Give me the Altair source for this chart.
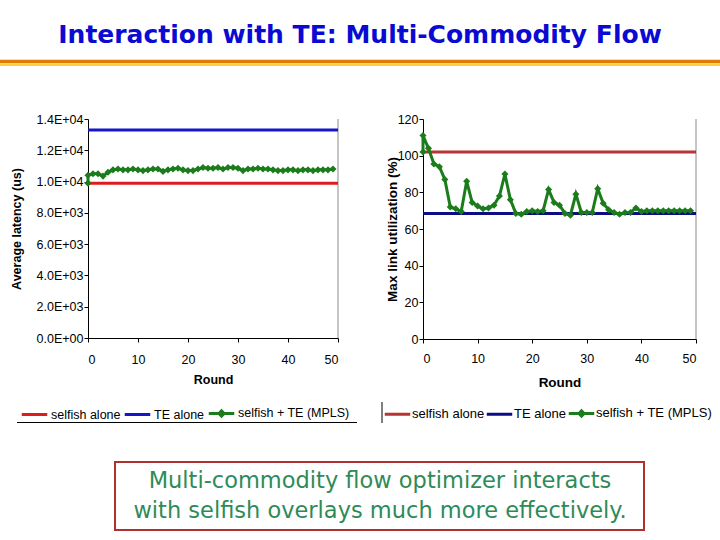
import altair as alt
import pandas as pd

FONT = "Liberation Sans"

TITLE = "Interaction with TE: Multi-Commodity Flow"
NOTE = "Multi-commodity flow optimizer interacts\nwith selfish overlays much more effectively."

SERIES = ["selfish alone", "TE alone", "selfish + TE (MPLS)"]

# Round index of each point of the combined run; round 0 appears twice
# (state before and after the first TE pass).
ROUNDS = [0, 0, 1, 2, 3, 4, 5, 6, 7, 8, 9, 10, 11, 12, 13, 14, 15, 16, 17, 18, 19,
          20, 21, 22, 23, 24, 25, 26, 27, 28, 29, 30, 31, 32, 33, 34, 35, 36, 37,
          38, 39, 40, 41, 42, 43, 44, 45, 46, 47, 48, 49]

# Average latency (us)
LATENCY_SELFISH = 9900
LATENCY_TE = 13300
LATENCY_MPLS = [9900, 10400, 10500, 10500, 10350, 10600, 10750, 10800, 10750, 10750,
                10800, 10750, 10700, 10750, 10800, 10800, 10650, 10750, 10800, 10850,
                10750, 10700, 10700, 10800, 10900, 10850, 10850, 10900, 10800, 10900,
                10900, 10850, 10700, 10800, 10800, 10850, 10800, 10800, 10750, 10700,
                10700, 10750, 10750, 10700, 10750, 10750, 10700, 10750, 10750, 10750,
                10800]

# Max link utilization (%)
UTIL_SELFISH = 102
UTIL_TE = 68.5
UTIL_MPLS = [102, 111, 104, 95.5, 94, 87, 72, 71, 69.5, 86, 74.5, 72.5, 71, 71.5, 73,
             78, 90, 76, 68.5, 68, 69.5, 70, 69.5, 70, 81.5, 74.5, 73, 68.5, 67.5, 79,
             69, 69, 69, 82, 74, 70.5, 69, 68, 69, 69, 71.5, 69.5, 70, 70, 70, 70, 70,
             70, 70, 70, 70]

ROUND_TICKS = [0, 10, 20, 30, 40, 50]
LATENCY_TICKS = [0, 2000, 4000, 6000, 8000, 10000, 12000, 14000]
UTIL_TICKS = [0, 20, 40, 60, 80, 100, 120]

LEFT_COLORS = ["#de1c1c", "#1616c6", "#1a7c1a"]
RIGHT_COLORS = ["#b83333", "#0c0c84", "#1a7c1a"]

# legend glyphs: plain strokes for the constant levels, stroke + diamond for the run
KEY_SHAPES = ["stroke", "stroke", "M-1,0L1,0M0,-0.2L0.2,0L0,0.2L-0.2,0Z"]

SCI_LABELS = ("datum.value >= 10000 ? format(datum.value / 10000, '.1f') + 'E+04' : "
              "datum.value > 0 ? format(datum.value / 1000, '.1f') + 'E+03' : '0.0E+00'")


def level_frame(selfish, te):
    return pd.DataFrame({"series": SERIES[:2], "round": [0, 0], "round_end": [50, 50],
                         "value": [selfish, te]})


def run_frame(values):
    return pd.DataFrame({"series": SERIES[2], "step": list(range(len(values))),
                         "round": ROUNDS, "value": values})


def panel(levels, run, *, x_range, y_domain, y_range, y_ticks, y_title, colors,
          y_axis_at, x_axis_at, legend_x, legend_y, label_size, title_size, key_size,
          legend_gap, label_offset, y_title_pad, x_label_pad, x_title_pad, **y_axis_extra):
    axis_style = dict(grid=False, domainColor="black", domainWidth=1, tickColor="black",
                      tickWidth=1, tickSize=4, labelColor="black", labelFont=FONT,
                      labelFontSize=label_size, titleFont=FONT, titleFontWeight="bold",
                      titleFontSize=title_size, titleColor="black")
    legend = alt.Legend(
        orient="none", legendX=legend_x, legendY=legend_y, direction="horizontal",
        title=None, padding=0, symbolSize=650, symbolStrokeWidth=3, labelFont=FONT,
        labelFontSize=key_size, labelColor="black", labelOffset=label_offset,
        columnPadding=legend_gap)
    color = alt.Color("series:N", scale=alt.Scale(domain=SERIES, range=colors),
                      legend=legend)
    shape = alt.Shape("series:N", scale=alt.Scale(domain=SERIES, range=KEY_SHAPES),
                      legend=legend)
    x = alt.X("round:Q",
              scale=alt.Scale(domain=[0, 50], range=x_range, nice=False, zero=False),
              axis=alt.Axis(orient="bottom", offset=-(540 - x_axis_at), values=ROUND_TICKS,
                            title="Round", labelPadding=x_label_pad,
                            titlePadding=x_title_pad, **axis_style))
    y = alt.Y("value:Q",
              scale=alt.Scale(domain=y_domain, range=y_range, nice=False, zero=True),
              axis=alt.Axis(orient="left", offset=-y_axis_at, values=y_ticks, title=y_title,
                            labelPadding=1, titlePadding=y_title_pad, **axis_style,
                            **y_axis_extra))

    # legend-only layer: carries the shape scale, draws nothing
    key = alt.Chart(run).transform_filter("false").mark_point(filled=True, opacity=1).encode(
        x=x, y=y, color=color, shape=shape)
    levels_layer = alt.Chart(levels).mark_rule(strokeWidth=3).encode(
        x=x, x2="round_end:Q", y=y, color=color)
    run_line = alt.Chart(run).mark_line(strokeWidth=3).encode(
        x=x, y=y, order="step:Q", color=color)
    run_dots = alt.Chart(run).mark_point(shape="diamond", filled=True, size=50,
                                         opacity=1).encode(x=x, y=y, color=color)
    edge = alt.Chart().mark_rule(color="#8c8c8c", strokeWidth=1).encode(
        x=alt.datum(50), y=alt.datum(y_domain[0]), y2=alt.datum(y_domain[1]))
    return alt.layer(key, edge, levels_layer, run_line, run_dots)


latency = panel(
    level_frame(LATENCY_SELFISH, LATENCY_TE), run_frame(LATENCY_MPLS),
    x_range=[88, 338], y_domain=[0, 14000], y_range=[338, 119], y_ticks=LATENCY_TICKS,
    y_title="Average latency (us)", colors=LEFT_COLORS, y_axis_at=88, x_axis_at=338,
    legend_x=20, legend_y=398.5, label_size=12.5, title_size=12.5, key_size=12.5,
    legend_gap=-3, label_offset=2, y_title_pad=13, x_label_pad=11, x_title_pad=8,
    labelExpr=SCI_LABELS)

utilization = panel(
    level_frame(UTIL_SELFISH, UTIL_TE), run_frame(UTIL_MPLS),
    x_range=[423, 696], y_domain=[0, 120], y_range=[339, 119], y_ticks=UTIL_TICKS,
    y_title="Max link utilization (%)", colors=RIGHT_COLORS, y_axis_at=423, x_axis_at=339,
    legend_x=383, legend_y=398.5, label_size=12.5, title_size=13.5, key_size=13,
    legend_gap=-6, label_offset=0, y_title_pad=-2, x_label_pad=9, x_title_pad=11)

heading = alt.Chart().mark_text(
    font="DejaVu Sans", fontWeight="bold", fontSize=25, color="#0a0ad2",
    align="center", baseline="middle").encode(
    x=alt.value(360), y=alt.value(35), text=alt.value(TITLE))
orange_bar = alt.Chart().mark_rule(color="#e27a06", strokeWidth=3.5).encode(
    x=alt.value(0), x2=alt.value(720), y=alt.value(61.5))
yellow_bar = alt.Chart().mark_rule(color="#ffd040", strokeWidth=2.5).encode(
    x=alt.value(0), x2=alt.value(720), y=alt.value(64.8))

legend_rule = alt.Chart().mark_rule(color="black", strokeWidth=1).encode(
    x=alt.value(17), x2=alt.value(357), y=alt.value(422.5))
legend_bar = alt.Chart().mark_rule(color="black", strokeWidth=1).encode(
    x=alt.value(382), y=alt.value(402), y2=alt.value(423))

note_box = alt.Chart().mark_rect(fill="white", stroke="#b03030", strokeWidth=2).encode(
    x=alt.value(115), x2=alt.value(644), y=alt.value(462), y2=alt.value(530))
note_text = alt.Chart().mark_text(
    font="DejaVu Sans", fontSize=22.5, color="#2e8b57", lineBreak="\n", lineHeight=30,
    align="center", baseline="middle").encode(
    x=alt.value(380), y=alt.value(481), text=alt.value(NOTE))

chart = (
    alt.layer(heading, orange_bar, yellow_bar, latency, utilization, legend_rule,
              legend_bar, note_box, note_text)
    .resolve_scale(x="independent", y="independent", color="independent",
                   shape="independent")
    .resolve_axis(x="independent", y="independent")
    .resolve_legend(color="independent", shape="independent")
    .properties(width=720, height=540, padding=0,
                autosize=alt.AutoSizeParams(type="none"), background="white")
    .configure_view(strokeWidth=0)
)

chart.save("out.html", embed_options={"renderer": "svg", "actions": False})
